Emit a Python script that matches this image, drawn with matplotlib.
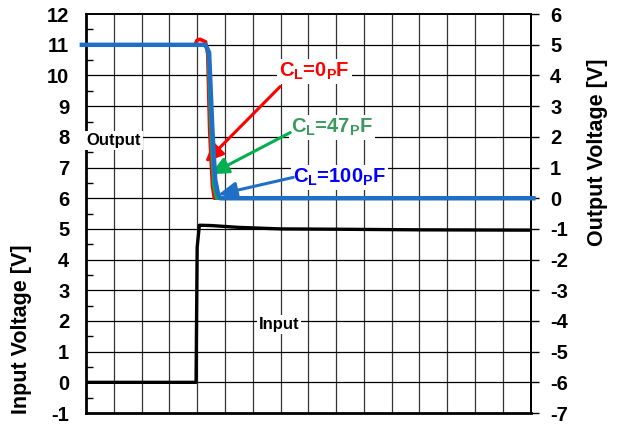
import numpy as np
import matplotlib
matplotlib.use("Agg")
import matplotlib.pyplot as plt
from matplotlib.ticker import MultipleLocator

plt.rcParams['font.family'] = ['Liberation Sans', 'DejaVu Sans']
plt.rcParams['mathtext.fontset'] = 'custom'
plt.rcParams['mathtext.rm'] = 'Liberation Sans'
plt.rcParams['mathtext.bf'] = 'Liberation Sans:bold'
plt.rcParams['axes.unicode_minus'] = False

# time in scope divisions
t_in = [0, 3.96, 4.0, 4.08, 4.5, 5.5, 7, 9, 12, 16]
v_in = [0, 0, 4.4, 5.12, 5.11, 5.05, 5.0, 4.99, 4.97, 4.96]

t_out_0pf = [-0.15, 3.92, 4.0, 4.1, 4.3, 4.38, 4.45, 4.55, 4.62, 16.1]
v_out_0pf = [5.0, 5.0, 5.15, 5.18, 5.1, 4.7, 2.2, 0.4, 0.0, 0.0]

t_out_47pf = [-0.15, 4.3, 4.4, 4.5, 4.6, 4.7, 16.1]
v_out_47pf = [5.0, 5.0, 4.75, 2.2, 0.4, 0.0, 0.0]

t_out_100pf = [-0.15, 4.3, 4.43, 4.55, 4.65, 4.75, 4.83, 16.1]
v_out_100pf = [5.0, 5.0, 4.75, 2.2, 0.6, 0.15, 0.0, 0.0]

blue = '#1f6fc6'
red = '#ff0000'
green = '#00b050'

fig = plt.figure(figsize=(6.22, 4.28), dpi=100)
ax = fig.add_axes([0.1383, 0.035, 0.7147, 0.932])
ax2 = ax.twinx()

ax.set_xlim(0, 16)
ax.set_ylim(-1, 12)
ax2.set_ylim(-7, 6)

# grid
for xv in range(1, 16):
    ax.axvline(xv, color='#333333', lw=0.9, zorder=1)
for yv in range(0, 12):
    ax.axhline(yv, color='black', lw=0.9, zorder=1)

ax.plot(t_in, v_in, color='black', lw=2.4, zorder=4, solid_joinstyle='round')

ax2.plot(t_out_0pf, v_out_0pf, color=red, lw=2.6, zorder=3, clip_on=False)
ax2.plot(t_out_47pf, v_out_47pf, color=green, lw=2.6, zorder=3, clip_on=False)
ax2.plot(t_out_100pf, v_out_100pf, color=blue, lw=3.2, zorder=4, clip_on=False)

ax.set_xticks([])
ax.yaxis.set_major_locator(MultipleLocator(1))
ax.yaxis.set_minor_locator(MultipleLocator(0.5))
ax.tick_params(axis='y', which='major', length=0, pad=12, labelsize=14.5)
ax.tick_params(axis='y', which='minor', direction='in', length=5, width=1)
for lab in ax.get_yticklabels():
    lab.set_fontweight('bold')

ax2.yaxis.set_major_locator(MultipleLocator(1))
ax2.tick_params(axis='y', which='major', direction='out', length=6, width=1,
                pad=8, labelsize=14.5)
for lab in ax2.get_yticklabels():
    lab.set_fontweight('bold')

for s in ['left', 'bottom']:
    ax.spines[s].set_linewidth(2)
for s in ['top', 'right']:
    ax.spines[s].set_linewidth(1.4)
ax2.spines['right'].set_linewidth(1.4)
for s in ['left', 'bottom', 'top']:
    ax2.spines[s].set_visible(False)

fig.text(22 / 622, 1 - 329 / 428, 'Input Voltage [V]', rotation=90,
         ha='center', va='center', fontsize=15.5, fontweight='bold')
fig.text(598 / 622, 1 - 152 / 428, 'Output Voltage [V]', rotation=90,
         ha='center', va='center', fontsize=15.5, fontweight='bold')

box = dict(facecolor='white', edgecolor='none', pad=1.5)
ax2.text(0.02, 1.88, 'Output', ha='left', va='center', fontsize=12,
         fontweight='bold', bbox=box, zorder=6, clip_on=False)
ax.text(6.95, 1.89, 'Input', ha='center', va='center', fontsize=12,
        fontweight='bold', bbox=box, zorder=6)

labels = [
    ('C$_\\mathbf{L}$=0$_\\mathbf{P}$F', red, red, (8.22, 10.13), (6.99, 9.64), (4.29, 7.17)),
    ('C$_\\mathbf{L}$=47$_\\mathbf{P}$F', '#3c9a5f', green, (8.86, 8.31), (7.35, 8.14), (4.47, 6.78)),
    ('C$_\\mathbf{L}$=100$_\\mathbf{P}$F', '#0000ff', blue, (9.12, 6.68), (7.46, 6.68), (4.76, 6.12)),
]
for txt, tcol, acol, tpos, start, tip in labels:
    ax.annotate('', xy=tip, xytext=start,
                arrowprops=dict(arrowstyle='-|>,head_length=1.1,head_width=0.5',
                                color=acol, lw=2.2, shrinkA=0, shrinkB=0), zorder=7)
    ax.text(tpos[0], tpos[1], txt, color=tcol, ha='center', va='center',
            fontsize=14.5, fontweight='bold', bbox=box, zorder=6)

fig.savefig('out.png', dpi=100)
